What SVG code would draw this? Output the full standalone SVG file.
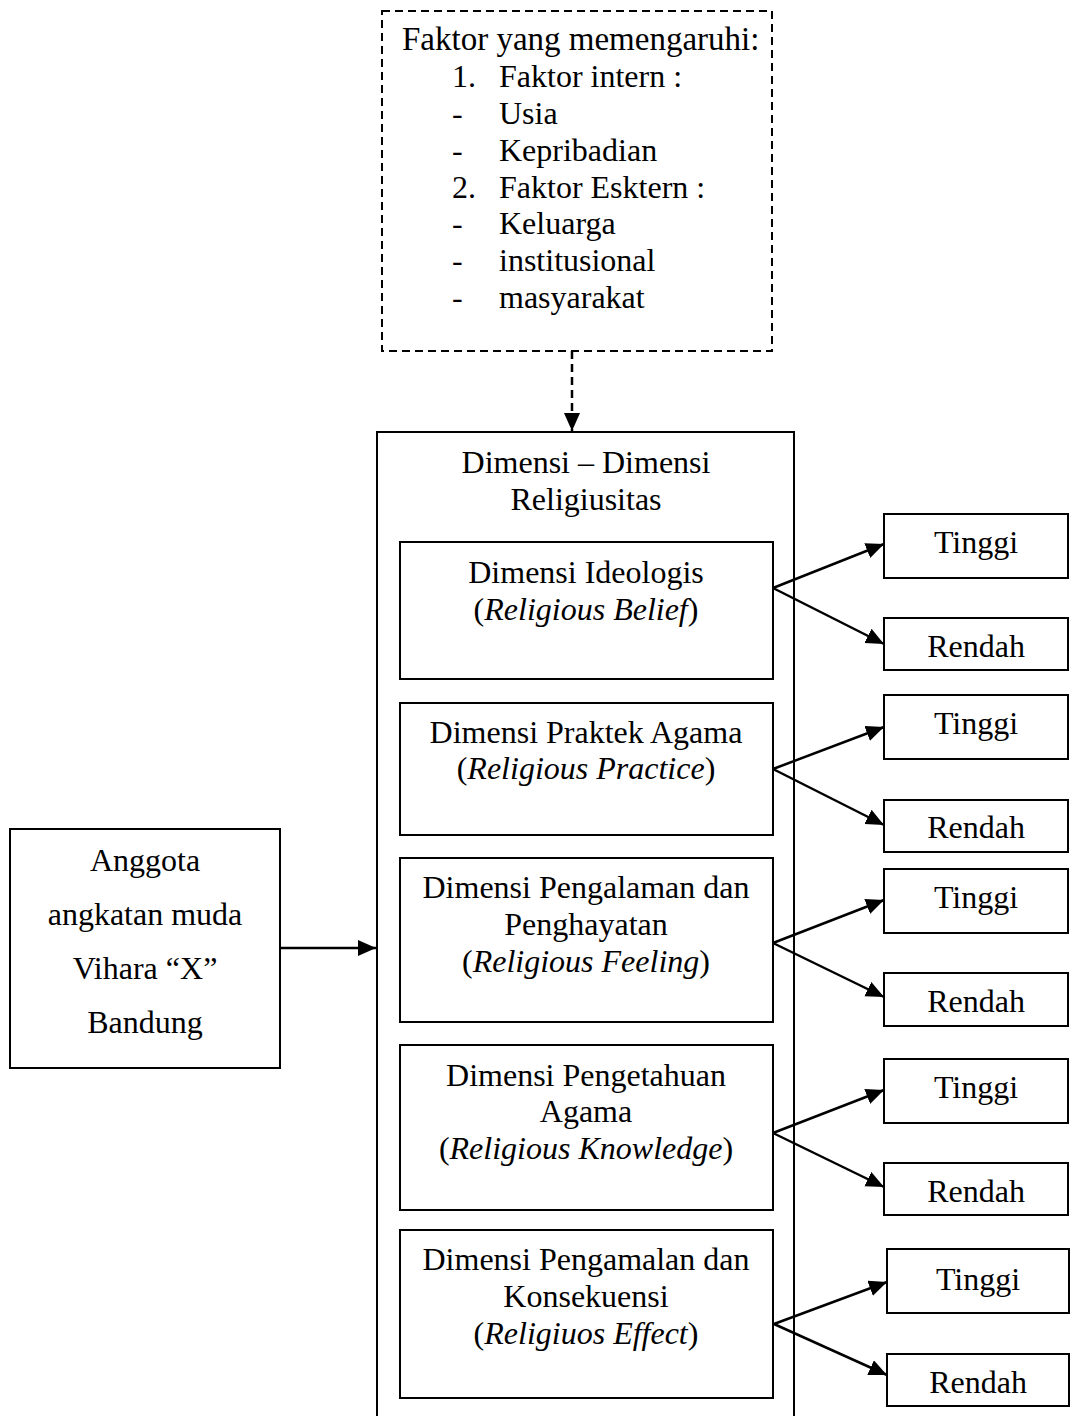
<svg xmlns="http://www.w3.org/2000/svg" width="1072" height="1416" viewBox="0 0 1072 1416">
<style>
  text { font-family: "Liberation Serif", "Times New Roman", serif; font-size: 32px; fill: #000; }
  .c { text-anchor: middle; }
  .box { fill: #fff; stroke: #000; stroke-width: 2; }
  .dash { fill: #fff; stroke: #000; stroke-width: 2; stroke-dasharray: 8 5; }
  .ln { fill: none; stroke: #000; stroke-width: 2.5; }
  .it { font-style: italic; }
</style>
<defs>
  <marker id="ah" markerUnits="userSpaceOnUse" markerWidth="20" markerHeight="20" refX="18" refY="8" orient="auto">
    <path d="M0,0 L18,8 L0,16 z" fill="#000"/>
  </marker>
</defs>
<rect width="1072" height="1416" fill="#fff"/>

<g id="faktor">
  <rect class="dash" x="382" y="11" width="390" height="340"/>
  <text x="402" y="50" style="font-size:33px">Faktor yang memengaruhi:</text>
  <text x="452" y="87">1.</text><text x="499" y="87">Faktor intern :</text>
  <text x="452" y="124">-</text><text x="499" y="124">Usia</text>
  <text x="452" y="161">-</text><text x="499" y="161">Kepribadian</text>
  <text x="452" y="198">2.</text><text x="499" y="198">Faktor Esktern :</text>
  <text x="452" y="234">-</text><text x="499" y="234">Keluarga</text>
  <text x="452" y="271">-</text><text x="499" y="271">institusional</text>
  <text x="452" y="308">-</text><text x="499" y="308">masyarakat</text>
</g>

<g id="dimensi">
  <rect class="box" x="377" y="432" width="417" height="1000"/>
  <text class="c" x="586" y="473">Dimensi – Dimensi</text>
  <text class="c" x="586" y="510">Religiusitas</text>
</g>

<g id="ideologis">
  <rect class="box" x="400" y="542" width="373" height="137"/>
  <text class="c" x="586" y="583">Dimensi Ideologis</text>
  <text class="c" x="586" y="620">(<tspan class="it">Religious Belief</tspan>)</text>
</g>
<g id="praktek">
  <rect class="box" x="400" y="703" width="373" height="132"/>
  <text class="c" x="586" y="743">Dimensi Praktek Agama</text>
  <text class="c" x="586" y="779">(<tspan class="it">Religious Practice</tspan>)</text>
</g>
<g id="pengalaman">
  <rect class="box" x="400" y="858" width="373" height="164"/>
  <text class="c" x="586" y="898">Dimensi Pengalaman dan</text>
  <text class="c" x="586" y="935">Penghayatan</text>
  <text class="c" x="586" y="972">(<tspan class="it">Religious Feeling</tspan>)</text>
</g>
<g id="pengetahuan">
  <rect class="box" x="400" y="1045" width="373" height="165"/>
  <text class="c" x="586" y="1086">Dimensi Pengetahuan</text>
  <text class="c" x="586" y="1122">Agama</text>
  <text class="c" x="586" y="1159">(<tspan class="it">Religious Knowledge</tspan>)</text>
</g>
<g id="pengamalan">
  <rect class="box" x="400" y="1230" width="373" height="168"/>
  <text class="c" x="586" y="1270">Dimensi Pengamalan dan</text>
  <text class="c" x="586" y="1307">Konsekuensi</text>
  <text class="c" x="586" y="1344">(<tspan class="it">Religiuos Effect</tspan>)</text>
</g>

<g id="anggota">
  <rect class="box" x="10" y="829" width="270" height="239"/>
  <text class="c" x="145" y="871">Anggota</text>
  <text class="c" x="145" y="925">angkatan muda</text>
  <text class="c" x="145" y="979">Vihara “X”</text>
  <text class="c" x="145" y="1033">Bandung</text>
</g>

<g id="tinggi1"><rect class="box" x="884" y="514" width="184" height="64"/><text class="c" x="976" y="553">Tinggi</text></g>
<g id="rendah1"><rect class="box" x="884" y="618" width="184" height="52"/><text class="c" x="976" y="657">Rendah</text></g>
<g id="tinggi2"><rect class="box" x="884" y="695" width="184" height="64"/><text class="c" x="976" y="734">Tinggi</text></g>
<g id="rendah2"><rect class="box" x="884" y="800" width="184" height="52"/><text class="c" x="976" y="838">Rendah</text></g>
<g id="tinggi3"><rect class="box" x="884" y="869" width="184" height="64"/><text class="c" x="976" y="908">Tinggi</text></g>
<g id="rendah3"><rect class="box" x="884" y="973" width="184" height="53"/><text class="c" x="976" y="1012">Rendah</text></g>
<g id="tinggi4"><rect class="box" x="884" y="1059" width="184" height="64"/><text class="c" x="976" y="1098">Tinggi</text></g>
<g id="rendah4"><rect class="box" x="884" y="1163" width="184" height="52"/><text class="c" x="976" y="1202">Rendah</text></g>
<g id="tinggi5"><rect class="box" x="887" y="1249" width="182" height="64"/><text class="c" x="978" y="1290">Tinggi</text></g>
<g id="rendah5"><rect class="box" x="887" y="1354" width="182" height="52"/><text class="c" x="978" y="1393">Rendah</text></g>

<g id="connectors">
  <line class="ln" x1="572" y1="351" x2="572" y2="431" stroke-dasharray="8 5" marker-end="url(#ah)"/>
  <line class="ln" x1="280" y1="948" x2="376" y2="948" marker-end="url(#ah)"/>
  <line class="ln" x1="773" y1="588" x2="884" y2="544" marker-end="url(#ah)"/>
  <line class="ln" x1="773" y1="588" x2="884" y2="644" marker-end="url(#ah)"/>
  <line class="ln" x1="773" y1="769" x2="884" y2="727" marker-end="url(#ah)"/>
  <line class="ln" x1="773" y1="769" x2="884" y2="825" marker-end="url(#ah)"/>
  <line class="ln" x1="773" y1="943" x2="884" y2="900" marker-end="url(#ah)"/>
  <line class="ln" x1="773" y1="943" x2="884" y2="997" marker-end="url(#ah)"/>
  <line class="ln" x1="773" y1="1133" x2="884" y2="1090" marker-end="url(#ah)"/>
  <line class="ln" x1="773" y1="1133" x2="884" y2="1187" marker-end="url(#ah)"/>
  <line class="ln" x1="774" y1="1324" x2="887" y2="1282" marker-end="url(#ah)"/>
  <line class="ln" x1="774" y1="1324" x2="887" y2="1375" marker-end="url(#ah)"/>
</g>
</svg>
